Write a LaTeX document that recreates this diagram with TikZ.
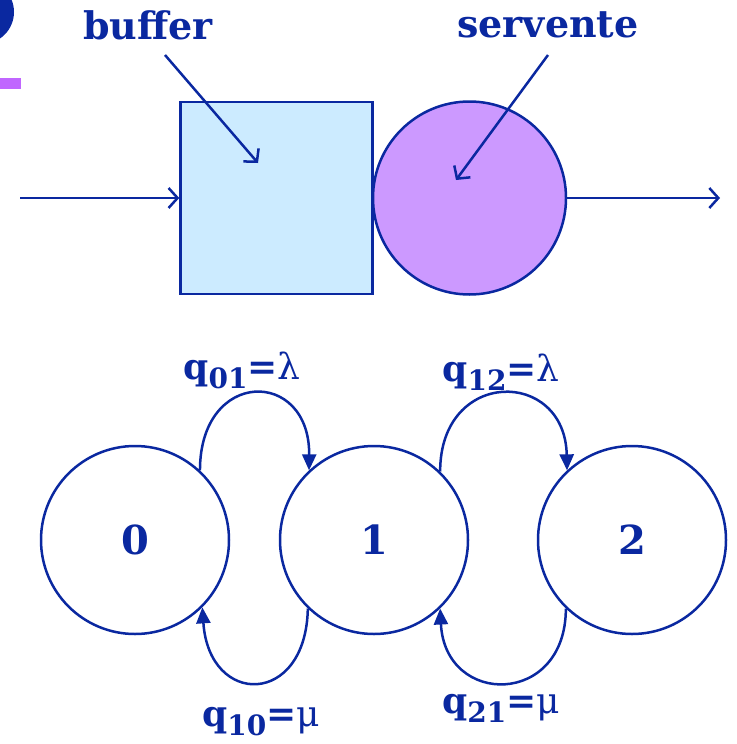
\documentclass[tikz,border=0pt]{standalone}
\usepackage{fontspec}
\setmainfont{DejaVu Serif}
\usetikzlibrary{arrows.meta}
\definecolor{dblue}{HTML}{0A28A0}
\definecolor{lblue}{HTML}{CCEBFF}
\definecolor{lpurple}{HTML}{CC99FF}
\definecolor{bpurple}{HTML}{C066FF}
\begin{document}
\begin{tikzpicture}[x=1pt,y=-1pt,
  state/.style={circle, draw=dblue, line width=2.5pt, minimum size=188pt, inner sep=0pt, text=dblue, font=\bfseries\fontsize{40}{40}\selectfont},
  toplbl/.style={text=dblue, font=\bfseries\fontsize{38}{38}\selectfont, inner sep=0pt},
  qlbl/.style={text=dblue, font=\bfseries\fontsize{36}{36}\selectfont, inner sep=0pt},
  trans/.style={draw=dblue, line width=2.5pt, -{Triangle[length=16pt,width=14pt]}},
  pointer/.style={draw=dblue, line width=2.5pt, -{Straight Barb[length=9pt,width=20pt,line width=2.5pt]}}]
\useasboundingbox (0,0) rectangle (736,744);
% slide decorations
\fill[dblue] (-18,12) circle (32);
\fill[bpurple] (0,78) rectangle (21,89);
% queue
\node[draw=dblue, fill=lblue, line width=2.5pt, minimum size=192pt, inner sep=0pt] (buf) at (276.5,198) {};
\node[circle, draw=dblue, fill=lpurple, line width=2.5pt, minimum size=193pt, inner sep=0pt] (srv) at (469.5,198) {};
\coordinate (in) at (20,198);
\coordinate (out) at (720,198);
\draw[pointer] (in) -- (buf.west);
\draw[pointer] (srv.east) -- (out);
\node[toplbl] (lb) at (148,25) {buffer};
\node[toplbl] (ls) at (548,25) {servente};
\coordinate (pb1) at (165,55);
\coordinate (pb2) at (258,163);
\coordinate (ps1) at (548,55);
\coordinate (ps2) at (456,180);
\draw[pointer] (pb1) -- (pb2);
\draw[pointer] (ps1) -- (ps2);
% chain
\node[state] (s0) at (135,540) {0};
\node[state] (s1) at (374,540) {1};
\node[state] (s2) at (632,540) {2};
\draw[trans] (s0.47) .. controls (200,368) and (310,368) .. (s1.133);
\draw[trans] (s1.46) .. controls (440,368) and (565,368) .. (s2.133);
\draw[trans] (s1.-134) .. controls (306,707) and (209,707) .. (s0.-45);
\draw[trans] (s2.-134) .. controls (566,707) and (445,707) .. (s1.-46);
\node[qlbl] (q01) at (242,370) {q\raisebox{-9pt}{\fontsize{28}{28}\selectfont 01}=\mdseries λ};
\node[qlbl] (q12) at (501,372) {q\raisebox{-9pt}{\fontsize{28}{28}\selectfont 12}=\mdseries λ};
\node[qlbl] (q10) at (261,722) {q\raisebox{-9pt}{\fontsize{28}{28}\selectfont 10}=\mdseries μ};
\node[qlbl] (q21) at (501,708) {q\raisebox{-9pt}{\fontsize{28}{28}\selectfont 21}=\mdseries μ};
\end{tikzpicture}
\end{document}
